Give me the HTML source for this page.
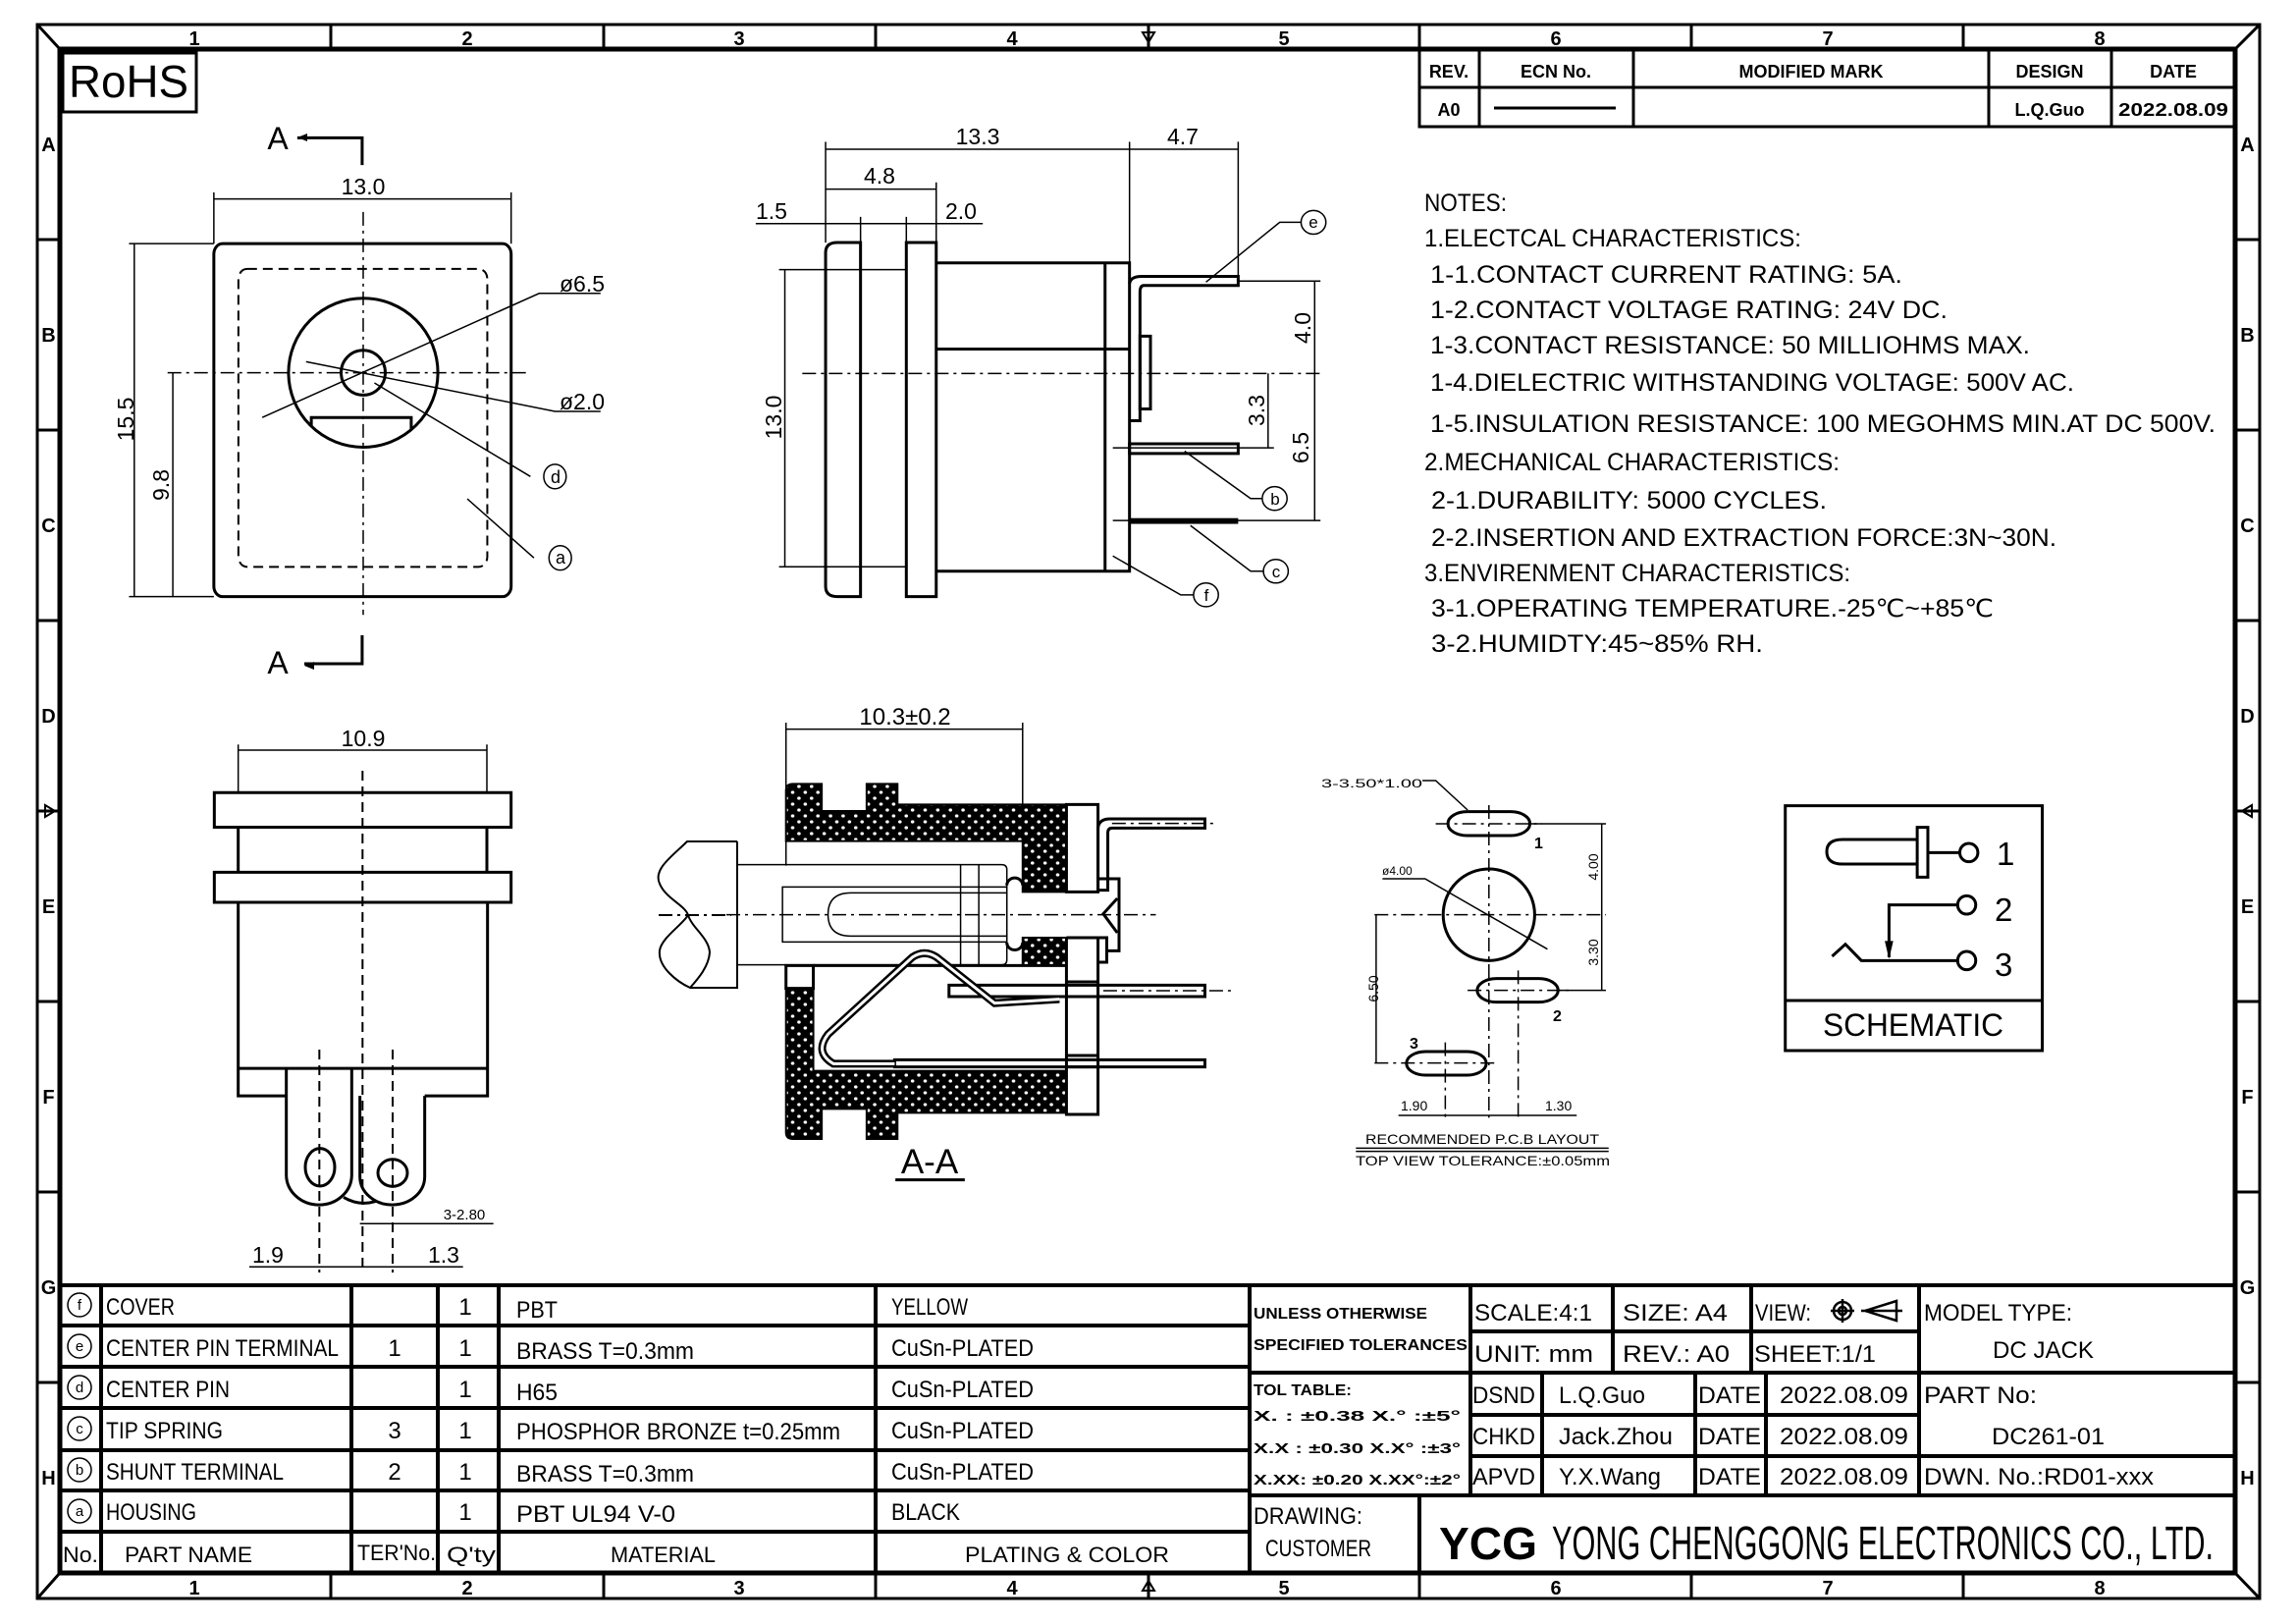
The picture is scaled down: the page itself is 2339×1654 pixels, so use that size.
<!DOCTYPE html>
<html><head><meta charset="utf-8"><style>
html,body{margin:0;padding:0;background:#fff}
svg{display:block}
text{font-family:"Liberation Sans",sans-serif;fill:#000}
.k{fill:none;stroke:#000;stroke-width:3;vector-effect:non-scaling-stroke}
.t{fill:none;stroke:#000;stroke-width:1.5;vector-effect:non-scaling-stroke}
.d{fill:none;stroke:#000;stroke-width:1.5;stroke-dasharray:14 5 3 5;vector-effect:non-scaling-stroke}
.ds{fill:none;stroke:#000;stroke-width:2;stroke-dasharray:10 6;vector-effect:non-scaling-stroke}
.w{fill:#fff;stroke:#000;stroke-width:3;vector-effect:non-scaling-stroke}
.h{fill:url(#hat);stroke:#000;stroke-width:2;vector-effect:non-scaling-stroke}
</style></head><body>
<svg width="2339" height="1654" viewBox="0 0 2339 1654" xmlns="http://www.w3.org/2000/svg">
<defs>
<pattern id="hat" width="36" height="36" patternUnits="userSpaceOnUse">
<rect width="36" height="36" fill="#000"/>
<circle cx="9" cy="9" r="5" fill="#fff"/><circle cx="27" cy="27" r="5" fill="#fff"/>
</pattern>
</defs>
<rect width="2339" height="1654" fill="#fff"/>

<!-- FRAME -->
<rect x="38" y="25" width="2264" height="1603" fill="none" stroke="#000" stroke-width="3"/>
<rect x="61" y="50" width="2216" height="1552" fill="none" stroke="#000" stroke-width="5"/>
<g stroke="#000" stroke-width="3">
<line x1="38" y1="25" x2="61" y2="50"/><line x1="2302" y1="25" x2="2277" y2="50"/>
<line x1="38" y1="1628" x2="61" y2="1602"/><line x1="2302" y1="1628" x2="2277" y2="1602"/>
<line x1="337" y1="25" x2="337" y2="50"/><line x1="615" y1="25" x2="615" y2="50"/><line x1="892" y1="25" x2="892" y2="50"/><line x1="1170" y1="25" x2="1170" y2="50"/><line x1="1446" y1="25" x2="1446" y2="50"/><line x1="1723" y1="25" x2="1723" y2="50"/><line x1="2000" y1="25" x2="2000" y2="50"/>
<line x1="337" y1="1602" x2="337" y2="1628"/><line x1="615" y1="1602" x2="615" y2="1628"/><line x1="892" y1="1602" x2="892" y2="1628"/><line x1="1170" y1="1602" x2="1170" y2="1628"/><line x1="1446" y1="1602" x2="1446" y2="1628"/><line x1="1723" y1="1602" x2="1723" y2="1628"/><line x1="2000" y1="1602" x2="2000" y2="1628"/>
<line x1="38" y1="244" x2="61" y2="244"/><line x1="38" y1="438" x2="61" y2="438"/><line x1="38" y1="632" x2="61" y2="632"/><line x1="38" y1="826" x2="61" y2="826"/><line x1="38" y1="1020" x2="61" y2="1020"/><line x1="38" y1="1214" x2="61" y2="1214"/><line x1="38" y1="1408" x2="61" y2="1408"/>
<line x1="2277" y1="244" x2="2302" y2="244"/><line x1="2277" y1="438" x2="2302" y2="438"/><line x1="2277" y1="632" x2="2302" y2="632"/><line x1="2277" y1="826" x2="2302" y2="826"/><line x1="2277" y1="1020" x2="2302" y2="1020"/><line x1="2277" y1="1214" x2="2302" y2="1214"/><line x1="2277" y1="1408" x2="2302" y2="1408"/>
</g>
<g fill="none" stroke="#000" stroke-width="2">
<path d="M1164,33 L1176,33 L1170,43 Z M1170,43 V50"/>
<path d="M1164,1620 L1176,1620 L1170,1610 Z M1170,1610 V1602"/>
<path d="M46,820 L46,832 L56,826 Z M56,826 H61"/>
<path d="M2294,820 L2294,832 L2284,826 Z M2284,826 H2277"/>
</g>
<g font-size="20" font-weight="bold" text-anchor="middle">
<text x="198" y="46">1</text><text x="476" y="46">2</text><text x="753" y="46">3</text><text x="1031" y="46">4</text><text x="1308" y="46">5</text><text x="1585" y="46">6</text><text x="1862" y="46">7</text><text x="2139" y="46">8</text>
<text x="198" y="1624">1</text><text x="476" y="1624">2</text><text x="753" y="1624">3</text><text x="1031" y="1624">4</text><text x="1308" y="1624">5</text><text x="1585" y="1624">6</text><text x="1862" y="1624">7</text><text x="2139" y="1624">8</text>
<text x="49.5" y="154">A</text><text x="49.5" y="348">B</text><text x="49.5" y="542">C</text><text x="49.5" y="736">D</text><text x="49.5" y="930">E</text><text x="49.5" y="1124">F</text><text x="49.5" y="1318">G</text><text x="49.5" y="1512">H</text>
<text x="2289.5" y="154">A</text><text x="2289.5" y="348">B</text><text x="2289.5" y="542">C</text><text x="2289.5" y="736">D</text><text x="2289.5" y="930">E</text><text x="2289.5" y="1124">F</text><text x="2289.5" y="1318">G</text><text x="2289.5" y="1512">H</text>
</g>

<!-- RoHS -->
<rect x="64" y="54" width="136" height="60" fill="none" stroke="#000" stroke-width="3"/>
<text x="70" y="99" font-size="46" textLength="122" lengthAdjust="spacingAndGlyphs">RoHS</text>

<!-- REV TABLE -->
<g stroke="#000" stroke-width="3" fill="none">
<rect x="1446" y="50" width="831" height="79"/>
<line x1="1446" y1="89" x2="2277" y2="89"/>
<line x1="1507" y1="50" x2="1507" y2="129"/><line x1="1664" y1="50" x2="1664" y2="129"/><line x1="2026" y1="50" x2="2026" y2="129"/><line x1="2151" y1="50" x2="2151" y2="129"/>
<line x1="1522" y1="110" x2="1646" y2="110"/>
</g>
<g font-size="18" font-weight="bold" text-anchor="middle">
<text x="1476" y="79">REV.</text><text x="1585" y="79">ECN No.</text><text x="1845" y="79">MODIFIED MARK</text><text x="2088" y="79">DESIGN</text><text x="2214" y="79">DATE</text>
<text x="1476" y="118">A0</text><text x="2088" y="118">L.Q.Guo</text><text x="2214" y="118" textLength="112" lengthAdjust="spacingAndGlyphs">2022.08.09</text>
</g>

<!-- NOTES -->
<g font-size="25" lengthAdjust="spacingAndGlyphs">
<text x="1451" y="215" textLength="84" lengthAdjust="spacingAndGlyphs">NOTES:</text>
<text x="1451" y="251" textLength="384" lengthAdjust="spacingAndGlyphs">1.ELECTCAL CHARACTERISTICS:</text>
<text x="1457" y="288" textLength="481" lengthAdjust="spacingAndGlyphs">1-1.CONTACT CURRENT RATING:    5A.</text>
<text x="1457" y="324" textLength="527" lengthAdjust="spacingAndGlyphs">1-2.CONTACT VOLTAGE RATING:  24V DC.</text>
<text x="1457" y="360" textLength="611" lengthAdjust="spacingAndGlyphs">1-3.CONTACT RESISTANCE:  50 MILLIOHMS MAX.</text>
<text x="1457" y="398" textLength="656" lengthAdjust="spacingAndGlyphs">1-4.DIELECTRIC WITHSTANDING VOLTAGE:  500V AC.</text>
<text x="1457" y="440" textLength="800" lengthAdjust="spacingAndGlyphs">1-5.INSULATION RESISTANCE:  100 MEGOHMS MIN.AT DC 500V.</text>
<text x="1451" y="479" textLength="423" lengthAdjust="spacingAndGlyphs">2.MECHANICAL CHARACTERISTICS:</text>
<text x="1458" y="518" textLength="403" lengthAdjust="spacingAndGlyphs">2-1.DURABILITY:  5000 CYCLES.</text>
<text x="1458" y="556" textLength="637" lengthAdjust="spacingAndGlyphs">2-2.INSERTION AND EXTRACTION FORCE:3N~30N.</text>
<text x="1451" y="592" textLength="434" lengthAdjust="spacingAndGlyphs">3.ENVIRENMENT CHARACTERISTICS:</text>
<text x="1458" y="628" textLength="573" lengthAdjust="spacingAndGlyphs">3-1.OPERATING TEMPERATURE.-25℃~+85℃</text>
<text x="1458" y="664" textLength="338" lengthAdjust="spacingAndGlyphs">3-2.HUMIDTY:45~85% RH.</text>
</g>

<!-- FRONT VIEW (zoom6) -->
<g transform="translate(60,50) scale(0.35714,0.41459)">
<rect class="k" x="442" y="478" width="848" height="867" rx="25"/>
<rect class="ds" x="512" y="540" width="710" height="732" rx="25"/>
<ellipse class="k" cx="868" cy="795" rx="213" ry="183"/>
<ellipse class="k" cx="868" cy="795" rx="63" ry="55"/>
<polyline class="k" points="720,925 720,905 1005,905 1005,935"/>
<line class="d" x1="868" y1="400" x2="868" y2="1390"/>
<line class="d" x1="310" y1="795" x2="1345" y2="795"/>
<polyline class="k" points="680,218 865,218 865,285"/>
<polyline class="k" points="700,1510 865,1510 865,1440"/>
<line class="t" x1="442" y1="352" x2="442" y2="478"/><line class="t" x1="1290" y1="352" x2="1290" y2="478"/>
<line class="t" x1="442" y1="368" x2="1290" y2="368"/>
<line class="t" x1="200" y1="478" x2="442" y2="478"/><line class="t" x1="200" y1="1345" x2="442" y2="1345"/>
<line class="t" x1="215" y1="478" x2="215" y2="1345"/>
<line class="t" x1="325" y1="795" x2="325" y2="1345"/>
<polyline class="t" points="580,905 1370,600 1545,600"/>
<polyline class="t" points="705,768 1415,890 1545,890"/>
<line class="t" x1="900" y1="820" x2="1345" y2="1050"/>
<ellipse class="t" cx="1415" cy="1050" rx="32" ry="30"/>
<line class="t" x1="1165" y1="1105" x2="1355" y2="1250"/>
<ellipse class="t" cx="1430" cy="1250" rx="32" ry="30"/>
</g>
<g font-size="23" text-anchor="middle">
<text x="370" y="198">13.0</text>
<text transform="translate(136,427) rotate(-90)">15.5</text>
<text transform="translate(172,494) rotate(-90)">9.8</text>
<text x="593" y="297">ø6.5</text><text x="593" y="417">ø2.0</text>
<text x="566" y="492" font-size="18">d</text><text x="571" y="574" font-size="18">a</text>
<text x="283" y="152" font-size="32">A</text><text x="283" y="686" font-size="32">A</text>
</g>
<g fill="#000"><path d="M303,140 l10,-4 v8 z"/><path d="M310,678 l10,-4 v8 z"/></g>

<!-- SIDE VIEW (zoom7) -->
<g transform="translate(760,110) scale(0.39541,0.34435)">
<path class="k" d="M235,398 L295,398 L295,1445 L235,1445 Q205,1445 205,1415 L205,428 Q205,398 235,398 Z"/>
<rect class="k" x="413" y="398" width="77" height="1047"/>
<polyline class="k" points="490,458 988,458 988,1370 490,1370"/>
<line class="k" x1="925" y1="458" x2="925" y2="1370"/>
<line class="k" x1="490" y1="713" x2="988" y2="713"/>
<line class="d" x1="145" y1="785" x2="1480" y2="785"/>
<line class="t" x1="85" y1="478" x2="413" y2="478"/><line class="t" x1="85" y1="1357" x2="413" y2="1357"/>
<line class="t" x1="100" y1="478" x2="100" y2="1357"/>
<line class="t" x1="205" y1="100" x2="205" y2="398"/><line class="t" x1="295" y1="322" x2="295" y2="398"/><line class="t" x1="413" y1="322" x2="413" y2="398"/><line class="t" x1="490" y1="220" x2="490" y2="398"/><line class="t" x1="988" y1="100" x2="988" y2="458"/><line class="t" x1="1268" y1="100" x2="1268" y2="500"/>
<line class="t" x1="205" y1="122" x2="1268" y2="122"/>
<line class="t" x1="205" y1="240" x2="490" y2="240"/>
<line class="t" x1="25" y1="342" x2="610" y2="342"/>
<path class="k" d="M988,520 Q990,498 1020,498 L1268,498 L1268,525 L1025,525 Q1015,525 1015,545 L1015,925 L988,925"/>
<rect class="k" x="1015" y="675" width="27" height="215"/>
<rect class="k" x="988" y="993" width="280" height="29"/>
<rect x="988" y="1213" width="280" height="17" fill="#000"/>
<line class="t" x1="1268" y1="512" x2="1480" y2="512"/><line class="t" x1="1465" y1="512" x2="1465" y2="1220"/>
<line class="t" x1="945" y1="1005" x2="1360" y2="1005"/><line class="t" x1="1345" y1="785" x2="1345" y2="1005"/>
<line class="t" x1="945" y1="1220" x2="1480" y2="1220"/>
<polyline class="t" points="1185,515 1375,338 1430,338"/><ellipse class="t" cx="1462" cy="338" rx="32" ry="35"/>
<polyline class="t" points="1130,1015 1300,1155 1330,1155"/><ellipse class="t" cx="1362" cy="1155" rx="32" ry="35"/>
<polyline class="t" points="1145,1235 1300,1370 1333,1370"/><ellipse class="t" cx="1365" cy="1370" rx="32" ry="35"/>
<polyline class="t" points="945,1325 1120,1440 1153,1440"/><ellipse class="t" cx="1185" cy="1440" rx="32" ry="35"/>
</g>
<g font-size="23" text-anchor="middle">
<text x="996" y="147">13.3</text><text x="1205" y="147">4.7</text><text x="896" y="187">4.8</text>
<text x="786" y="223">1.5</text><text x="979" y="223">2.0</text>
<text transform="translate(796,425) rotate(-90)">13.0</text>
<text transform="translate(1335,334) rotate(-90)">4.0</text>
<text transform="translate(1288,418) rotate(-90)">3.3</text>
<text transform="translate(1333,456) rotate(-90)">6.5</text>
<text x="1338" y="232" font-size="17">e</text><text x="1299" y="514" font-size="17">b</text><text x="1300" y="588" font-size="17">c</text><text x="1229" y="612" font-size="17">f</text>
</g>

<!-- BOTTOM VIEW (zoom8) -->
<g transform="translate(100,720) scale(0.33333,0.38270)">
<rect class="k" x="355" y="228" width="907" height="92"/>
<rect class="k" x="355" y="440" width="907" height="80"/>
<line class="k" x1="428" y1="320" x2="428" y2="440"/><line class="k" x1="1188" y1="320" x2="1188" y2="440"/>
<polyline class="k" points="575,1035 428,1035 428,520 1190,520 1190,1035 998,1035"/>
<line class="k" x1="428" y1="962" x2="1190" y2="962"/>
<path class="k" d="M575,962 L575,1245 A100,80 0 0 0 775,1245 L775,962"/>
<path class="k" d="M800,1035 L800,1250 A99,75 0 0 0 998,1250 L998,1035"/>
<path class="k" d="M750,1305 Q800,1330 850,1315"/>
<ellipse class="k" cx="678" cy="1225" rx="45" ry="50"/>
<ellipse class="k" cx="900" cy="1240" rx="45" ry="36"/>
<line class="ds" x1="808" y1="170" x2="808" y2="1500"/>
<line class="ds" x1="676" y1="912" x2="676" y2="1505"/>
<line class="ds" x1="900" y1="912" x2="900" y2="1505"/>
<line class="t" x1="428" y1="100" x2="428" y2="228"/><line class="t" x1="1188" y1="100" x2="1188" y2="228"/>
<line class="t" x1="428" y1="115" x2="1188" y2="115"/>
<line class="t" x1="800" y1="1375" x2="1208" y2="1375"/>
<line class="t" x1="462" y1="1490" x2="1115" y2="1490"/>
</g>
<g font-size="23" text-anchor="middle">
<text x="370" y="760">10.9</text><text x="473" y="1242" font-size="15">3-2.80</text>
<text x="273" y="1286">1.9</text><text x="452" y="1286">1.3</text>
</g>

<!-- SECTION A-A (zoom3) -->
<g transform="translate(740,720) scale(0.35714,0.33333)">
<path class="h" d="M170,255 Q170,235 190,235 L272,235 L272,318 L400,318 L400,235 L488,235 L488,298 L970,298 L970,565 L845,565 L845,410 L170,410 Z"/>
<rect class="w" x="970" y="298" width="90" height="267"/>
<rect class="h" x="845" y="705" width="125" height="85"/>
<path class="h" d="M170,860 L248,860 L248,1112 L970,1112 L970,1240 L488,1240 L488,1320 L400,1320 L400,1228 L272,1228 L272,1320 L190,1320 Q170,1320 170,1300 Z"/>
<rect class="w" x="970" y="1100" width="90" height="145"/>
<line class="k" x1="970" y1="705" x2="970" y2="1100"/><line class="k" x1="1060" y1="705" x2="1060" y2="1100"/>
<line class="k" x1="970" y1="705" x2="1060" y2="705"/>
<polyline class="k" points="1060,705 1085,705 1085,780 1060,780"/>
<line class="k" x1="970" y1="840" x2="1060" y2="840"/><line class="k" x1="970" y1="1065" x2="1060" y2="1065"/>
<rect class="k" x="170" y="790" width="78" height="70"/>
<line class="k" x1="248" y1="790" x2="970" y2="790"/>
<path class="t" d="M30,482 L785,482 Q800,482 800,497 L800,773 Q800,788 785,788 L30,788"/>
<rect class="t" x="160" y="550" width="640" height="168"/>
<path class="t" d="M800,568 L355,568 Q290,568 290,634 Q290,700 355,700 L800,700"/>
<line class="t" x1="668" y1="482" x2="668" y2="788"/><line class="t" x1="720" y1="482" x2="720" y2="788"/>
<path class="k" d="M800,545 A20,20 0 0 1 845,545 M800,720 A20,20 0 0 0 845,720"/>
<line class="d" x1="0" y1="635" x2="1225" y2="635"/>
<polyline class="k" points="1060,525 1120,525 1120,745 1085,745"/>
<polyline class="k" points="1115,585 1075,632 1115,690"/>
<path class="k" d="M1060,565 L1060,370 Q1062,342 1095,342 L1365,342 L1365,370 L1100,370 Q1088,370 1088,385 L1088,560 L1060,560"/>
<line class="d" x1="1100" y1="356" x2="1395" y2="356"/>
<rect class="k" x="635" y="850" width="730" height="35"/>
<line class="d" x1="1075" y1="867" x2="1440" y2="867"/>
<rect class="k" x="480" y="1078" width="885" height="22"/>
<path d="M950,893 L765,905 L600,765 Q565,740 530,765 L290,1000 Q250,1055 305,1090 L480,1090" fill="none" stroke="#000" stroke-width="8" vector-effect="non-scaling-stroke"/>
<path d="M950,893 L765,905 L600,765 Q565,740 530,765 L290,1000 Q250,1055 305,1090 L480,1090" fill="none" stroke="#fff" stroke-width="3" vector-effect="non-scaling-stroke"/>
<line class="t" x1="170" y1="48" x2="170" y2="485"/><line class="t" x1="845" y1="48" x2="845" y2="298"/>
<line class="t" x1="170" y1="68" x2="845" y2="68"/>
<line class="k" x1="482" y1="1445" x2="680" y2="1445"/>
</g>
<!-- plug outline -->
<path d="M751,857 V1006 H703 M751,857 H700 C685,872 665,885 672,900 C678,915 698,922 701,932 C705,945 722,955 723,970 C722,985 710,998 703,1006 C690,1000 670,985 672,968 C674,955 695,942 701,932" fill="none" stroke="#000" stroke-width="2"/>
<line x1="671" y1="932" x2="745" y2="932" stroke="#000" stroke-width="2" stroke-dasharray="14 5 3 5"/>
<text x="922" y="738" font-size="24" text-anchor="middle">10.3±0.2</text>
<text x="947" y="1195" font-size="35" text-anchor="middle">A-A</text>

<!-- PCB LAYOUT + SCHEMATIC (zoom2) -->
<g transform="translate(1300,780) scale(0.54201,0.33333)">
<polyline class="t" points="275,45 300,45 360,135"/>
<rect class="k" x="323" y="140" width="154" height="73" rx="36"/>
<ellipse class="k" cx="400" cy="455" rx="86" ry="140"/>
<line class="d" x1="400" y1="120" x2="400" y2="1075"/>
<line class="d" x1="185" y1="455" x2="620" y2="455"/>
<line class="d" x1="300" y1="177" x2="500" y2="177"/>
<rect class="k" x="378" y="650" width="152" height="72" rx="36"/>
<line class="d" x1="455" y1="625" x2="455" y2="1075"/>
<line class="d" x1="360" y1="686" x2="550" y2="686"/>
<rect class="k" x="245" y="873" width="150" height="72" rx="36"/>
<line class="d" x1="318" y1="845" x2="318" y2="1075"/>
<line class="d" x1="185" y1="908" x2="410" y2="908"/>
<line class="t" x1="477" y1="177" x2="620" y2="177"/><line class="t" x1="530" y1="686" x2="620" y2="686"/>
<line class="t" x1="612" y1="177" x2="612" y2="686"/>
<line class="t" x1="188" y1="455" x2="188" y2="908"/>
<polyline class="t" points="200,345 280,345 510,560"/>
<line class="t" x1="230" y1="1068" x2="565" y2="1068"/>
<line class="t" x1="150" y1="1168" x2="625" y2="1168"/><line class="t" x1="150" y1="1178" x2="625" y2="1178"/>
<rect class="k" x="957" y="122" width="483" height="748"/>
<line class="k" x1="957" y1="717" x2="1440" y2="717"/>
<path class="k" d="M1205,225 L1065,225 Q1035,225 1035,262 Q1035,300 1065,300 L1205,300"/>
<rect class="k" x="1205" y="188" width="20" height="152"/>
<line class="k" x1="1225" y1="265" x2="1285" y2="265"/>
<ellipse class="k" cx="1302" cy="265" rx="17" ry="28"/>
<ellipse class="k" cx="1298" cy="425" rx="17" ry="28"/>
<polyline class="k" points="1281,425 1152,425 1152,585"/>
<path d="M1144,535 L1160,535 L1152,590 Z" fill="#000"/>
<polyline class="k" points="1045,582 1070,545 1100,595 1281,595"/>
<ellipse class="k" cx="1298" cy="595" rx="17" ry="28"/>
</g>
<g>
<text x="1346" y="802" font-size="12" textLength="103" lengthAdjust="spacingAndGlyphs">3-3.50*1.00</text>
<text x="1563" y="864" font-size="16" font-weight="bold">1</text>
<text x="1582" y="1040" font-size="16" font-weight="bold">2</text>
<text x="1436" y="1068" font-size="16" font-weight="bold">3</text>
<text x="1408" y="891" font-size="12">ø4.00</text>
<text transform="translate(1628,883) rotate(-90)" font-size="14" text-anchor="middle">4.00</text>
<text transform="translate(1628,970) rotate(-90)" font-size="14" text-anchor="middle">3.30</text>
<text transform="translate(1404,1007) rotate(-90)" font-size="14" text-anchor="middle">6.50</text>
<text x="1427" y="1131" font-size="14">1.90</text><text x="1574" y="1131" font-size="14">1.30</text>
<text x="1391" y="1165" font-size="14" textLength="238" lengthAdjust="spacingAndGlyphs">RECOMMENDED P.C.B LAYOUT</text>
<text x="1381" y="1187" font-size="14" textLength="259" lengthAdjust="spacingAndGlyphs">TOP VIEW TOLERANCE:±0.05mm</text>
<text x="1949" y="1055" font-size="32" text-anchor="middle" textLength="184" lengthAdjust="spacingAndGlyphs">SCHEMATIC</text>
<text x="2034" y="881" font-size="33">1</text><text x="2032" y="938" font-size="33">2</text><text x="2032" y="994" font-size="33">3</text>
</g>

<!-- BOTTOM PART TABLE -->
<g stroke="#000" stroke-width="4" fill="none">
<line x1="61" y1="1309" x2="2277" y2="1309"/>
<line x1="61" y1="1350" x2="1274" y2="1350"/><line x1="61" y1="1392" x2="1274" y2="1392"/><line x1="61" y1="1434" x2="1274" y2="1434"/><line x1="61" y1="1477" x2="1274" y2="1477"/><line x1="61" y1="1518" x2="1274" y2="1518"/><line x1="61" y1="1560" x2="1274" y2="1560"/>
<line x1="103" y1="1309" x2="103" y2="1602"/><line x1="358" y1="1309" x2="358" y2="1602"/><line x1="446" y1="1309" x2="446" y2="1602"/><line x1="508" y1="1309" x2="508" y2="1602"/><line x1="892" y1="1309" x2="892" y2="1602"/><line x1="1273" y1="1309" x2="1273" y2="1602"/>
</g>
<g stroke="#000" stroke-width="1.5" fill="none">
<circle cx="81" cy="1329" r="12"/><circle cx="81" cy="1371" r="12"/><circle cx="81" cy="1413" r="12"/><circle cx="81" cy="1455" r="12"/><circle cx="81" cy="1497" r="12"/><circle cx="81" cy="1539" r="12"/>
</g>
<g font-size="15" text-anchor="middle">
<text x="81" y="1334">f</text><text x="81" y="1376">e</text><text x="81" y="1418">d</text><text x="81" y="1460">c</text><text x="81" y="1502">b</text><text x="81" y="1544">a</text>
</g>
<g font-size="24">
<text x="108" y="1339" textLength="70" lengthAdjust="spacingAndGlyphs">COVER</text>
<text x="108" y="1381" textLength="237" lengthAdjust="spacingAndGlyphs">CENTER PIN TERMINAL</text>
<text x="108" y="1423" textLength="126" lengthAdjust="spacingAndGlyphs">CENTER PIN</text>
<text x="108" y="1465" textLength="119" lengthAdjust="spacingAndGlyphs">TIP SPRING</text>
<text x="108" y="1507" textLength="181" lengthAdjust="spacingAndGlyphs">SHUNT TERMINAL</text>
<text x="108" y="1548" textLength="92" lengthAdjust="spacingAndGlyphs">HOUSING</text>
<text x="402" y="1381" text-anchor="middle">1</text><text x="402" y="1465" text-anchor="middle">3</text><text x="402" y="1507" text-anchor="middle">2</text>
<text x="474" y="1339" text-anchor="middle">1</text><text x="474" y="1381" text-anchor="middle">1</text><text x="474" y="1423" text-anchor="middle">1</text><text x="474" y="1465" text-anchor="middle">1</text><text x="474" y="1507" text-anchor="middle">1</text><text x="474" y="1548" text-anchor="middle">1</text>
<text x="526" y="1342" textLength="42" lengthAdjust="spacingAndGlyphs">PBT</text>
<text x="526" y="1384" textLength="181" lengthAdjust="spacingAndGlyphs">BRASS T=0.3mm</text>
<text x="526" y="1426" textLength="42" lengthAdjust="spacingAndGlyphs">H65</text>
<text x="526" y="1466" textLength="330" lengthAdjust="spacingAndGlyphs">PHOSPHOR BRONZE t=0.25mm</text>
<text x="526" y="1509" textLength="181" lengthAdjust="spacingAndGlyphs">BRASS T=0.3mm</text>
<text x="526" y="1550" textLength="162" lengthAdjust="spacingAndGlyphs">PBT UL94 V-0</text>
<text x="908" y="1339" textLength="78" lengthAdjust="spacingAndGlyphs">YELLOW</text>
<text x="908" y="1381" textLength="145" lengthAdjust="spacingAndGlyphs">CuSn-PLATED</text>
<text x="908" y="1423" textLength="145" lengthAdjust="spacingAndGlyphs">CuSn-PLATED</text>
<text x="908" y="1465" textLength="145" lengthAdjust="spacingAndGlyphs">CuSn-PLATED</text>
<text x="908" y="1507" textLength="145" lengthAdjust="spacingAndGlyphs">CuSn-PLATED</text>
<text x="908" y="1548" textLength="70" lengthAdjust="spacingAndGlyphs">BLACK</text>
</g>
<g font-size="22">
<text x="64" y="1591" textLength="36" lengthAdjust="spacingAndGlyphs">No.</text>
<text x="127" y="1591" textLength="130" lengthAdjust="spacingAndGlyphs">PART NAME</text>
<text x="364" y="1589" textLength="80" lengthAdjust="spacingAndGlyphs">TER'No.</text>
<text x="455" y="1591" textLength="50" lengthAdjust="spacingAndGlyphs">Q'ty</text>
<text x="622" y="1591" textLength="107" lengthAdjust="spacingAndGlyphs">MATERIAL</text>
<text x="983" y="1591" textLength="208" lengthAdjust="spacingAndGlyphs">PLATING &amp; COLOR</text>
</g>

<!-- TITLE BLOCK -->
<g stroke="#000" stroke-width="4" fill="none">
<line x1="1498" y1="1356" x2="1955" y2="1356"/>
<line x1="1273" y1="1398" x2="2277" y2="1398"/>
<line x1="1498" y1="1441" x2="1955" y2="1441"/>
<line x1="1498" y1="1483" x2="2277" y2="1483"/>
<line x1="1273" y1="1523" x2="2277" y2="1523"/>
<line x1="1498" y1="1309" x2="1498" y2="1523"/>
<line x1="1643" y1="1309" x2="1643" y2="1398"/><line x1="1784" y1="1309" x2="1784" y2="1398"/>
<line x1="1955" y1="1309" x2="1955" y2="1523"/>
<line x1="1571" y1="1398" x2="1571" y2="1523"/><line x1="1727" y1="1398" x2="1727" y2="1523"/><line x1="1799" y1="1398" x2="1799" y2="1523"/>
<line x1="1446" y1="1523" x2="1446" y2="1602"/>
</g>
<g font-size="16" font-weight="bold">
<text x="1277" y="1343" textLength="177" lengthAdjust="spacingAndGlyphs">UNLESS OTHERWISE</text>
<text x="1277" y="1375" textLength="218" lengthAdjust="spacingAndGlyphs">SPECIFIED TOLERANCES</text>
<text x="1277" y="1421" textLength="100" lengthAdjust="spacingAndGlyphs">TOL TABLE:</text>
<text x="1277" y="1447" font-size="15" textLength="211" lengthAdjust="spacingAndGlyphs">X.  : ±0.38    X.°  :±5°</text>
<text x="1277" y="1480" font-size="15" textLength="211" lengthAdjust="spacingAndGlyphs">X.X : ±0.30    X.X° :±3°</text>
<text x="1277" y="1512" font-size="15" textLength="211" lengthAdjust="spacingAndGlyphs">X.XX: ±0.20    X.XX°:±2°</text>
</g>
<g font-size="24">
<text x="1502" y="1345" textLength="120" lengthAdjust="spacingAndGlyphs">SCALE:4:1</text>
<text x="1653" y="1345" textLength="107" lengthAdjust="spacingAndGlyphs">SIZE:  A4</text>
<text x="1788" y="1345" textLength="57" lengthAdjust="spacingAndGlyphs">VIEW:</text>
<text x="1960" y="1345" textLength="151" lengthAdjust="spacingAndGlyphs">MODEL TYPE:</text>
<text x="1502" y="1387" textLength="121" lengthAdjust="spacingAndGlyphs">UNIT:  mm</text>
<text x="1653" y="1387" textLength="109" lengthAdjust="spacingAndGlyphs">REV.:  A0</text>
<text x="1787" y="1387" textLength="124" lengthAdjust="spacingAndGlyphs">SHEET:1/1</text>
<text x="2030" y="1383" textLength="103" lengthAdjust="spacingAndGlyphs">DC JACK</text>
<text x="1500" y="1429" textLength="64" lengthAdjust="spacingAndGlyphs">DSND</text>
<text x="1588" y="1429" textLength="88" lengthAdjust="spacingAndGlyphs">L.Q.Guo</text>
<text x="1730" y="1429" textLength="64" lengthAdjust="spacingAndGlyphs">DATE</text>
<text x="1813" y="1429" textLength="131" lengthAdjust="spacingAndGlyphs">2022.08.09</text>
<text x="1960" y="1429" textLength="115" lengthAdjust="spacingAndGlyphs">PART No:</text>
<text x="1500" y="1471" textLength="64" lengthAdjust="spacingAndGlyphs">CHKD</text>
<text x="1588" y="1471" textLength="116" lengthAdjust="spacingAndGlyphs">Jack.Zhou</text>
<text x="1730" y="1471" textLength="64" lengthAdjust="spacingAndGlyphs">DATE</text>
<text x="1813" y="1471" textLength="131" lengthAdjust="spacingAndGlyphs">2022.08.09</text>
<text x="2029" y="1471" textLength="115" lengthAdjust="spacingAndGlyphs">DC261-01</text>
<text x="1500" y="1512" textLength="64" lengthAdjust="spacingAndGlyphs">APVD</text>
<text x="1588" y="1512" textLength="104" lengthAdjust="spacingAndGlyphs">Y.X.Wang</text>
<text x="1730" y="1512" textLength="64" lengthAdjust="spacingAndGlyphs">DATE</text>
<text x="1813" y="1512" textLength="131" lengthAdjust="spacingAndGlyphs">2022.08.09</text>
<text x="1960" y="1512" textLength="234" lengthAdjust="spacingAndGlyphs">DWN. No.:RD01-xxx</text>
<text x="1277" y="1552" textLength="111" lengthAdjust="spacingAndGlyphs">DRAWING:</text>
<text x="1289" y="1585" textLength="108" lengthAdjust="spacingAndGlyphs">CUSTOMER</text>
</g>
<g fill="none" stroke="#000" stroke-width="2.5">
<circle cx="1877" cy="1335" r="9"/><circle cx="1877" cy="1335" r="4"/>
<line x1="1865" y1="1335" x2="1889" y2="1335"/><line x1="1877" y1="1323" x2="1877" y2="1347"/>
<path d="M1900,1335 L1932,1325 L1932,1345 Z M1896,1335 H1938"/>
</g>
<text x="1466" y="1588" font-size="46" font-weight="bold" textLength="100" lengthAdjust="spacingAndGlyphs" font-family="Liberation Sans">YCG</text>
<text x="1581" y="1588" font-size="48" font-family="Liberation Serif" textLength="674" lengthAdjust="spacingAndGlyphs">YONG CHENGGONG ELECTRONICS CO., LTD.</text>
</svg>
</body></html>
